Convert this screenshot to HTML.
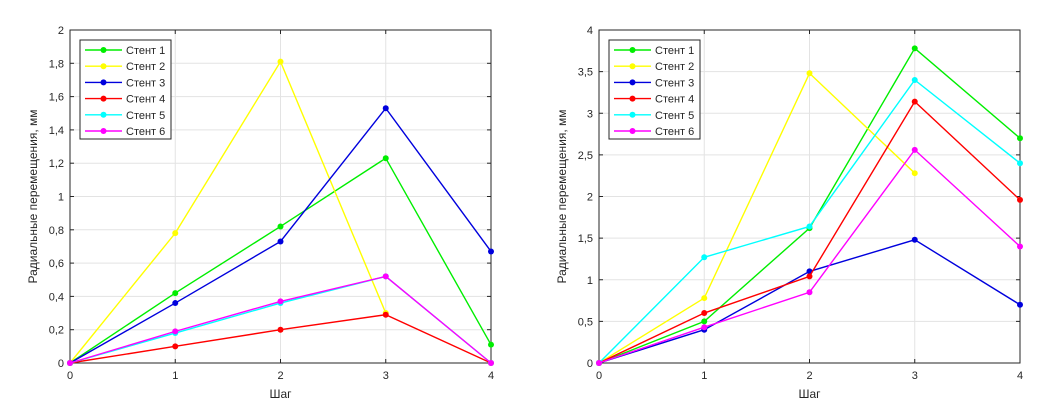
<!DOCTYPE html>
<html><head><meta charset="utf-8"><style>
body{margin:0;background:#fff;}
svg text{font-family:"Liberation Sans","DejaVu Sans",sans-serif;fill:#262626;}
</style></head><body>
<svg id="chart" width="1046" height="408" xmlns="http://www.w3.org/2000/svg"></svg>
<script>
const steps=[0,1,2,3,4];
const seriesNames=["Стент 1","Стент 2","Стент 3","Стент 4","Стент 5","Стент 6"];
const seriesColors=["#00ee00","#ffff00","#0000dd","#ff0000","#00ffff","#ff00ff"];
const leftS1=[0,0.42,0.82,1.23,0.11];
const leftS2=[0,0.78,1.81,0.3,null];
const leftS3=[0,0.36,0.73,1.53,0.67];
const leftS4=[0,0.1,0.2,0.29,0];
const leftS5=[0,0.18,0.36,0.52,0];
const leftS6=[0,0.19,0.37,0.52,0];
const rightS1=[0,0.5,1.62,3.78,2.7];
const rightS2=[0,0.78,3.48,2.28,null];
const rightS3=[0,0.4,1.1,1.48,0.7];
const rightS4=[0,0.6,1.04,3.14,1.96];
const rightS5=[0,1.27,1.64,3.4,2.4];
const rightS6=[0,0.43,0.85,2.56,1.4];
const leftTicks=["0","0,2","0,4","0,6","0,8","1","1,2","1,4","1,6","1,8","2"];
const leftTickVals=[0,0.2,0.4,0.6,0.8,1,1.2,1.4,1.6,1.8,2];
const rightTicks=["0","0,5","1","1,5","2","2,5","3","3,5","4"];
const rightTickVals=[0,0.5,1,1.5,2,2.5,3,3.5,4];
const NS="http://www.w3.org/2000/svg";
const svg=document.getElementById('chart');
function mk(tag,attrs,parent){const e=document.createElementNS(NS,tag);for(const k in attrs)e.setAttribute(k,attrs[k]);(parent||svg).appendChild(e);return e;}
function drawPanel(px,x0,x1,y0,y1,ymax,tickVals,tickLabels,series){
  const g=mk('g',{});
  
  
  const sx=v=>x0+(x1-x0)*v/4;
  const sy=v=>y1-(y1-y0)*v/ymax;
  mk('rect',{x:x0,y:y0,width:x1-x0,height:y1-y0,fill:'#fff'},g);
  tickVals.forEach((v,i)=>{
    const l=mk('line',{x1:x0,x2:x1,y1:sy(v),y2:sy(v),stroke:'#e3e3e3','stroke-width':1},g);
    
    
    mk('line',{x1:x0,x2:x0+4,y1:sy(v),y2:sy(v),stroke:'#262626'},g);
    mk('line',{x1:x1,x2:x1-4,y1:sy(v),y2:sy(v),stroke:'#262626'},g);
    const t=mk('text',{x:x0-6,y:sy(v)+4,'text-anchor':'end','font-size':11},g);
    t.textContent=tickLabels[i];
    
    
  });
  steps.forEach(s=>{
    const l=mk('line',{x1:sx(s),x2:sx(s),y1:y0,y2:y1,stroke:'#e3e3e3'},g);
    
    
    mk('line',{x1:sx(s),x2:sx(s),y1:y1,y2:y1-4,stroke:'#262626'},g);
    mk('line',{x1:sx(s),x2:sx(s),y1:y0,y2:y0+4,stroke:'#262626'},g);
    const t=mk('text',{x:sx(s),y:y1+16,'text-anchor':'middle','font-size':11},g);
    t.textContent=s;
    
    
  });
  mk('rect',{x:x0,y:y0,width:x1-x0,height:y1-y0,fill:'none',stroke:'#262626','stroke-width':1},g);
  series.forEach((data,si)=>{
    let d='';let pen=false;
    data.forEach((v,i)=>{if(v===null){pen=false;return;}d+=(pen?'L':'M')+sx(steps[i])+' '+sy(v)+' ';pen=true;});
    const p=mk('path',{d:d,fill:'none',stroke:seriesColors[si],'stroke-width':1.4},g);
    
    
    data.forEach((v,i)=>{if(v===null)return;
      const c=mk('circle',{cx:sx(steps[i]),cy:sy(v),r:3,fill:seriesColors[si]},g);
      
      
    });
  });
  const xt=mk('text',{x:(x0+x1)/2,y:y1+35,'text-anchor':'middle','font-size':12},g);
  xt.textContent='Шаг';
  
  
  const yt=mk('text',{x:0,y:0,'text-anchor':'middle','font-size':12,transform:`translate(${x0-33},${(y0+y1)/2}) rotate(-90)`},g);
  yt.textContent='Радиальные перемещения, мм';
  
  
  const lg=mk('g',{},g);
  
  
  mk('rect',{x:x0+10,y:40,width:91,height:99,fill:'#fff',stroke:'#262626'},lg);
  seriesNames.forEach((n,i)=>{
    const yy=50+i*16.2;
    const e=mk('g',{},lg);
    
    
    mk('line',{x1:x0+15,x2:x0+52,y1:yy,y2:yy,stroke:seriesColors[i],'stroke-width':1.4},e);
    mk('circle',{cx:x0+33.5,cy:yy,r:3,fill:seriesColors[i]},e);
    const t=mk('text',{x:x0+56,y:yy+4,'font-size':11},e);
    t.textContent=n;
  });
}
drawPanel('left',70,491,30,363,2,leftTickVals,leftTicks,[leftS1,leftS2,leftS3,leftS4,leftS5,leftS6]);
drawPanel('right',599,1020,30,363,4,rightTickVals,rightTicks,[rightS1,rightS2,rightS3,rightS4,rightS5,rightS6]);
</script>
</body></html>
